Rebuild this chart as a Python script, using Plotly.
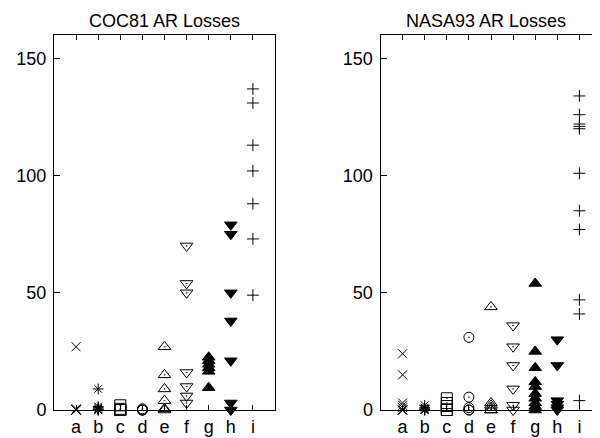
import plotly.graph_objects as go

categories = ["a", "b", "c", "d", "e", "f", "g", "h", "i"]
y_ticks = [0, 50, 100, 150]
titles = ["COC81 AR Losses", "NASA93 AR Losses"]

# COC81 panel values per category
coc81_a = [27, 0.5, 0, 0, 0, 0]
coc81_b = [9, 1.5, 1, 0.5, 0, 0, 0]
coc81_c = [2, 0.5, 0, 0, 0]
coc81_d = [0.5, 0, 0, 0]
coc81_e = [27, 15, 9, 4, 0.5, 0]
coc81_f = [70, 54, 50, 16, 10, 6, 3]
coc81_g = [22.5, 21, 19.5, 18, 16.5, 9.5]
coc81_h = [79, 75, 50, 38, 21, 3, 0]
coc81_i = [137, 131, 113, 102, 88, 73, 49]

# NASA93 panel values per category
nasa93_a = [24, 15, 3, 2, 1, 0, 0, 0]
nasa93_b = [2, 1, 0.5, 0, 0, 0]
nasa93_c = [5, 3, 1.7, 0, 0]
nasa93_d = [31, 5.5, 1, 0, 0]
nasa93_e = [44, 3, 2, 1, 0, 0]
nasa93_f = [36, 27, 19, 9, 2, 0]
nasa93_g = [54, 25, 18, 12, 10, 7, 5, 3, 1.5, 0]
nasa93_h = [30, 19, 4, 2.5, 1, 0]
nasa93_i = [134, 126, 122, 121, 120, 101, 85, 77, 47, 41, 4]

coc81 = [coc81_a, coc81_b, coc81_c, coc81_d, coc81_e, coc81_f, coc81_g, coc81_h, coc81_i]
nasa93 = [nasa93_a, nasa93_b, nasa93_c, nasa93_d, nasa93_e, nasa93_f, nasa93_g, nasa93_h, nasa93_i]

symbols = ["x-thin", "asterisk", "square-open-dot", "circle-open-dot",
           "triangle-up-open-dot", "triangle-down-open-dot",
           "triangle-up", "triangle-down", "cross-thin"]
sizes = [9, 9, 11, 10, 11, 11, 11, 11, 8.5]

FONT = "Liberation Sans, Arial, sans-serif"
# the page adds an 8px body margin; the figure is sized to fill the rest
OFF = 8
W, H = 600 - OFF, 438 - OFF

fig = go.Figure()
for panel, (data, xa, ya) in enumerate([(coc81, "x", "y"), (nasa93, "x2", "y2")]):
    for cat, vals, sym, sz in zip(categories, data, symbols, sizes):
        fig.add_trace(go.Scatter(
            x=[cat] * len(vals), y=vals, mode="markers",
            xaxis=xa, yaxis=ya, cliponaxis=False, showlegend=False,
            marker=dict(symbol=sym, size=sz, color="black",
                        line=dict(color="black", width=1)),
        ))

y0 = (H - (410 - OFF)) / H
y1 = (H - (35 - OFF)) / H
px_per_cat = 22.1
left_x0 = 54 - OFF
right_x0 = 380.5 - OFF

axis_common = dict(
    type="category", categoryorder="array", categoryarray=categories,
    showline=True, linecolor="black", linewidth=1, mirror="allticks",
    ticks="inside", ticklen=5, tickcolor="black", tickwidth=1, automargin=False,
    showgrid=False, zeroline=False, tickfont=dict(family=FONT, size=18, color="black"),
    ticklabelstandoff=0,
)
yaxis_common = dict(
    range=[0, 160], tickvals=y_ticks, showline=True, linecolor="black", linewidth=1,
    ticks="inside", ticklen=6, tickcolor="black", tickwidth=1, automargin=False,
    showgrid=False, zeroline=False, tickfont=dict(family=FONT, size=18, color="black"),
    domain=[y0, y1], ticklabelstandoff=3,
)

title_y = 1 - (21 - OFF) / H
fig.update_layout(
    width=W, height=H, margin=dict(l=0, r=0, t=0, b=0, autoexpand=False),
    paper_bgcolor="white", plot_bgcolor="white",
    xaxis=dict(axis_common, domain=[left_x0 / W, (left_x0 + 10 * px_per_cat) / W],
               range=[-1, 9], anchor="y"),
    yaxis=dict(yaxis_common, mirror=True, anchor="x"),
    xaxis2=dict(axis_common, domain=[right_x0 / W, 1.0],
                range=[-1, -1 + (W - right_x0) / px_per_cat], anchor="y2"),
    yaxis2=dict(yaxis_common, mirror=False, anchor="x2"),
    annotations=[
        dict(text=titles[0], x=(164.5 - OFF) / W, y=title_y, xref="paper", yref="paper",
             xanchor="center", yanchor="middle", showarrow=False,
             font=dict(family=FONT, size=18, color="black")),
        dict(text=titles[1], x=(486 - OFF) / W, y=title_y, xref="paper", yref="paper",
             xanchor="center", yanchor="middle", showarrow=False,
             font=dict(family=FONT, size=18, color="black")),
    ],
)

fig.write_html("out.html")
